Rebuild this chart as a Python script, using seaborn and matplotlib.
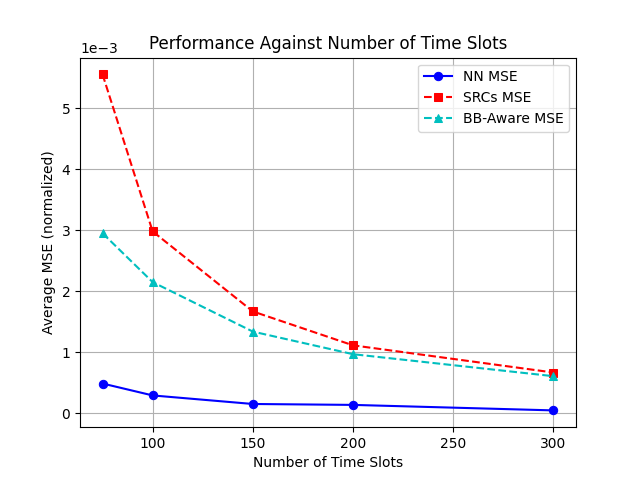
import matplotlib
matplotlib.use("Agg")
import matplotlib.pyplot as plt
import seaborn as sns
import pandas as pd

time_slots = [75, 100, 150, 200, 300]
nn_mse = [0.49e-3, 0.295e-3, 0.155e-3, 0.14e-3, 0.05e-3]
srcs_mse = [5.55e-3, 2.98e-3, 1.67e-3, 1.115e-3, 0.67e-3]
bb_mse = [2.95e-3, 2.15e-3, 1.34e-3, 0.97e-3, 0.61e-3]

fig, ax = plt.subplots(figsize=(6.4, 4.8), dpi=100)

sns.lineplot(x=time_slots, y=nn_mse, ax=ax, color="b", marker="o", linestyle="-",
             markeredgecolor="b", label="NN MSE")
sns.lineplot(x=time_slots, y=srcs_mse, ax=ax, color="r", marker="s", linestyle="--",
             markeredgecolor="r", label="SRCs MSE")
sns.lineplot(x=time_slots, y=bb_mse, ax=ax, color="c", marker="^", linestyle="--",
             markeredgecolor="c", label="BB-Aware MSE")

ax.set_title("Performance Against Number of Time Slots")
ax.set_xlabel("Number of Time Slots")
ax.set_ylabel("Average MSE (normalized)")
ax.ticklabel_format(axis="y", style="sci", scilimits=(0, 0))
ax.grid(True)
ax.legend(loc="upper right")

fig.savefig("out.png", dpi=100)
